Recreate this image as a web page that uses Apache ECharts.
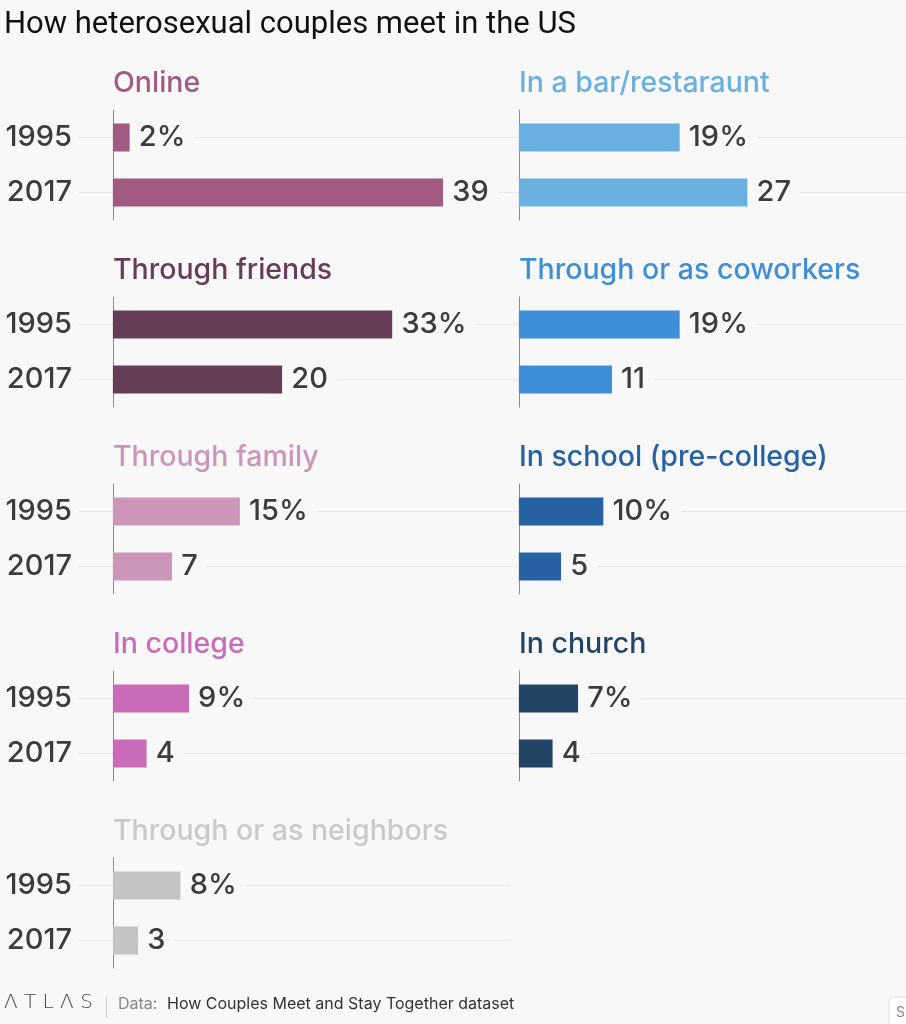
<!DOCTYPE html>
<html><head><meta charset="utf-8">
<style>html,body{margin:0;padding:0;background:#f8f8f8;}#c{width:906px;height:1024px;}</style>
<script src="https://cdn.jsdelivr.net/npm/echarts@6/dist/echarts.min.js"></script>
</head><body><div id="c"></div>
<script>
const chartTitle = 'How heterosexual couples meet in the US';
const years = ['1995', '2017'];
const categories = ['Online', 'Through friends', 'Through family', 'In college', 'Through or as neighbors',
  'In a bar/restaraunt', 'Through or as coworkers', 'In school (pre-college)', 'In church'];
const values1995 = [2, 33, 15, 9, 8, 19, 19, 10, 7];
const values2017 = [39, 20, 7, 4, 3, 27, 11, 5, 4];
const barColors = ['#a15b82', '#663d58', '#cc96b9', '#c96bb8', '#c4c4c4', '#69b0e1', '#3e8fd7', '#2662a1', '#224565'];
const titleColors = ['#a15b82', '#663d58', '#cc96b9', '#c96bb8', '#cacaca', '#69b0e1', '#3e8fd7', '#2662a1', '#224565'];
const sourceLabel = 'Data:';
const sourceText = 'How Couples Meet and Stay Together dataset';

const BG = '#f8f8f8';
const FONT = 'Inter';
const chart = echarts.init(document.getElementById('c'), null, {renderer: 'canvas'});

const grids = [], xAxes = [], yAxes = [], series = [];
const titles = [{
  text: chartTitle, left: 4, top: 7, padding: 0,
  textStyle: {fontSize: 31, fontWeight: 'normal', color: '#111', fontFamily: 'Roboto', lineHeight: 36}
}];

categories.forEach((name, i) => {
  const col = i < 5 ? 0 : 1;
  const row = i < 5 ? i : i - 5;
  const axisX = col ? 519 : 113;
  grids.push({left: axisX - 34, top: 110 + 187 * row, width: 432, height: 110,
    containLabel: false, outerBoundsMode: 'none'});
  xAxes.push({gridIndex: i, type: 'value', min: -4, max: 47, show: false});
  yAxes.push({
    gridIndex: i, type: 'category', data: years, inverse: true,
    axisLine: {show: true, onZero: true, lineStyle: {color: '#8c8c8c', width: 1}},
    axisTick: {show: false},
    axisLabel: {show: col === 0, margin: 7, fontSize: 29, fontWeight: 500, color: '#3c3c3c', fontFamily: FONT},
    splitLine: {show: false}
  });
  series.push({
    type: 'bar', xAxisIndex: i, yAxisIndex: i,
    data: [values1995[i], values2017[i]],
    barWidth: 28, z: 3,
    itemStyle: {color: barColors[i]},
    label: {
      show: true, position: 'right', distance: 0, padding: [2, 9],
      backgroundColor: BG, fontSize: 29, fontWeight: 500, color: '#3c3c3c', fontFamily: FONT,
      formatter: p => p.dataIndex === 0 ? p.value + '%' : String(p.value)
    },
    markLine: {
      silent: true, z: 1, symbol: 'none', animation: false,
      label: {show: false},
      lineStyle: {color: '#e8e8e8', width: 1, type: 'solid'},
      data: years.map(y => ({yAxis: y}))
    }
  });
  titles.push({
    text: name, left: axisX, top: 66 + 187 * row, padding: 0,
    textStyle: {fontSize: 28.5, fontWeight: 500, color: titleColors[i], fontFamily: FONT, lineHeight: 34}
  });
});

const option = {
  backgroundColor: BG,
  animation: false,
  title: titles,
  grid: grids,
  xAxis: xAxes,
  yAxis: yAxes,
  series: series,
  graphic: [
    {type: 'text', left: 4, top: 993, style: {text: 'Λ T L Λ S', fontSize: 20, fill: '#444', fontFamily: 'DejaVu Sans', fontWeight: 200}},
    {type: 'rect', shape: {x: 106, y: 996, width: 1, height: 22}, style: {fill: '#ccc'}},
    {type: 'text', left: 118, top: 996, style: {text: sourceLabel, fontSize: 16, fill: '#888', fontFamily: FONT}},
    {type: 'text', left: 167, top: 996, style: {text: sourceText, fontSize: 16, fill: '#333', fontFamily: FONT}},
    {type: 'rect', shape: {x: 889, y: 997, width: 40, height: 34, r: 4}, style: {fill: '#fff', stroke: '#ddd', lineWidth: 1}},
    {type: 'text', left: 896, top: 1006, style: {text: 'S', fontSize: 14, fill: '#888', fontFamily: FONT}}
  ]
};
chart.setOption(option);
</script>
</body></html>
